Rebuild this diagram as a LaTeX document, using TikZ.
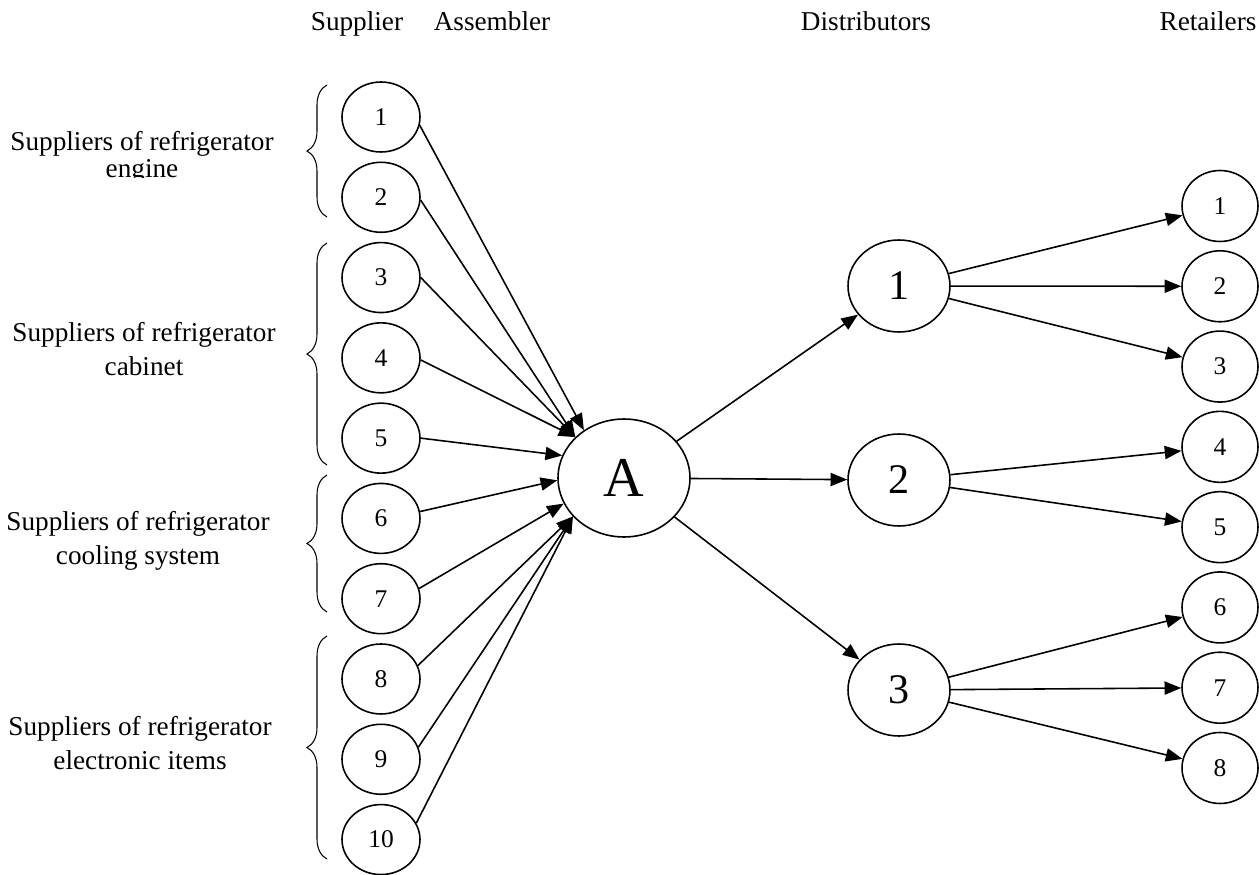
\documentclass[tikz,border=0pt]{standalone}
\usepackage{fontspec}
\setmainfont{Liberation Serif}
\usetikzlibrary{arrows.meta,shapes.geometric,decorations.pathreplacing,positioning}

\begin{document}
\begin{tikzpicture}[x=0.02cm,y=-0.02cm,
					->,
					>={Triangle[length=9.5pt,width=7.5pt]},
					line width=0.9pt,
					node distance=1.606cm,
					label text/.style={font=\fontsize{15.5}{19.3}\selectfont,align=center,inner sep=1pt},
					supplier node/.style={ellipse,draw,inner sep=0pt,minimum width=1.56cm,minimum height=1.4cm,font=\fontsize{14.5}{17}\selectfont},
					retailer node/.style={supplier node,minimum width=1.52cm,minimum height=1.42cm},
					distributor node/.style={ellipse,draw,inner sep=0pt,minimum width=2.04cm,minimum height=1.84cm,font=\fontsize{24}{28}\selectfont},
					assembler node/.style={ellipse,draw,inner sep=0pt,minimum width=2.64cm,minimum height=2.36cm,font=\fontsize{32}{36}\selectfont},
					group brace/.style={-,decorate,decoration={brace,amplitude=0.4cm},line width=0.6pt}]

  \useasboundingbox (0,0) rectangle (1259,875);

  % column titles
  \node[label text,anchor=base] (hsup) at (357,31) {Supplier};
  \node[label text,anchor=base] (hasm) at (492,31) {Assembler};
  \node[label text,anchor=base] (hdis) at (866,31) {Distributors};
  \node[label text,anchor=base east] (hret) at (1259,31) {Retailers};

  % suppliers
  \node[supplier node] (s1) at (381,117) {1};
  \node[supplier node] (s2) [below of=s1] {2};
  \node[supplier node] (s3) [below of=s2] {3};
  \node[supplier node] (s4) [below of=s3] {4};
  \node[supplier node] (s5) [below of=s4] {5};
  \node[supplier node] (s6) [below of=s5] {6};
  \node[supplier node] (s7) [below of=s6] {7};
  \node[supplier node] (s8) [below of=s7] {8};
  \node[supplier node] (s9) [below of=s8] {9};
  \node[supplier node] (s10) [below of=s9] {10};

  % assembler and distributors
  \node[assembler node] (A) at (624,478) {A};
  \node[distributor node] (d1) at (899,286) {1};
  \node[distributor node] (d2) at (899,480) {2};
  \node[distributor node] (d3) at (899,690) {3};

  % retailers
  \node[retailer node] (r1) at (1220,206) {1};
  \node[retailer node] (r2) [below of=r1] {2};
  \node[retailer node] (r3) [below of=r2] {3};
  \node[retailer node] (r4) [below of=r3] {4};
  \node[retailer node] (r5) [below of=r4] {5};
  \node[retailer node] (r6) [below of=r5] {6};
  \node[retailer node] (r7) [below of=r6] {7};
  \node[retailer node] (r8) [below of=r7] {8};

  % supplier groups
  \begin{scope}
    \clip (0,60) rectangle (300,178);
    \node[label text] (g1) at (142,157) {Suppliers of refrigerator\\[-4pt]engine};
  \end{scope}
  \node[label text] (g2) at (144,349) {Suppliers of refrigerator\\cabinet};
  \node[label text] (g3) at (138,541) {Suppliers of refrigerator\\cooling system};
  \node[label text] (g4) at (140,743) {Suppliers of refrigerator\\electronic items};

  \draw[group brace] (327,217) -- (327,85);
  \draw[group brace] (327,465) -- (327,243);
  \draw[group brace] (327,612) -- (327,475);
  \draw[group brace] (327,859) -- (327,636);

  \path
    (s1.-12) edge (A.130)
    (s2.-4) edge (A.140)
    (s3.east) edge (A.140)
    (s4.-3) edge (A.140)
    (s5.east) edge (A.160)
    (s6.10) edge (A.182)
    (s7.15) edge (A.203)
    (s8.20) edge (A.217)
    (s9.18) edge (A.217)
    (s10.25) edge (A.217);

  \path
    (A) edge (d1)
        edge (d2)
        edge (d3);

  \path
    (d1) edge (r1)
         edge (r2)
         edge (r3)
    (d2) edge (r4)
         edge (r5)
    (d3) edge (r6)
         edge (r7)
         edge (r8);
\end{tikzpicture}
\end{document}
